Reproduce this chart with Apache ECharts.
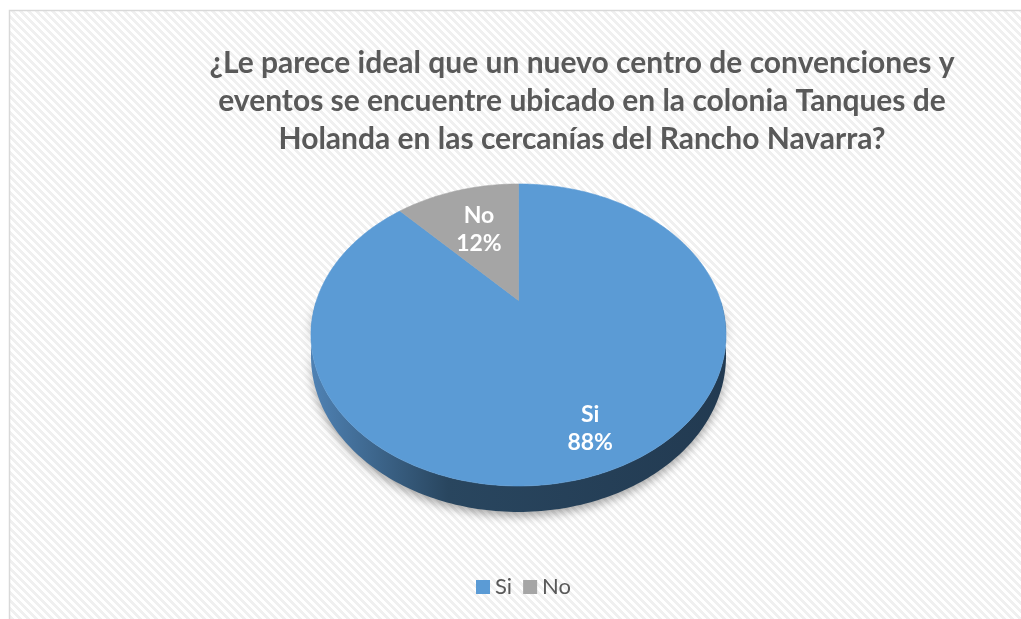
<!DOCTYPE html>
<html>
<head>
<meta charset="utf-8">
<script src="https://cdn.jsdelivr.net/npm/echarts@6/dist/echarts.min.js"></script>
<style>html,body{margin:0;padding:0;background:#fff;}#main{width:1021px;height:619px;}</style>
</head>
<body>
<div id="main"></div>
<script>
// ---- data ----
const titleLines = [
  '¿Le parece ideal que un nuevo centro de convenciones y',
  'eventos se encuentre ubicado en la colonia Tanques de',
  'Holanda en las cercanías del Rancho Navarra?'
];
const categories = ['Si', 'No'];
const values = [88, 12];

// ---- style ----
const sliceColors = { Si: '#5b9bd5', No: '#a5a5a5' };
const labelRadius = { Si: 0.8, No: 0.6 };
const FONT = 'Lato, "Open Sans", sans-serif';
const CX = 518.5, CY = 300.4, A = 202, B = 143.1, K = 0.229, DROP = 20;

function project(theta, f, drop) {
  const X = f * Math.sin(theta), Z = f * Math.cos(theta);
  const w = 1 + K * Z;
  return [CX + A * X / w, CY + (-B * Z + (drop || 0)) / w];
}

const total = values.reduce((s, v) => s + v, 0);

// background stripe pattern
const pat = document.createElement('canvas');
pat.width = 8; pat.height = 8;
const pctx = pat.getContext('2d');
pctx.fillStyle = '#ffffff'; pctx.fillRect(0, 0, 8, 8);
pctx.fillStyle = '#f0f0f0';
for (let y = 0; y < 8; y++) for (let x = 0; x < 8; x++) {
  if (((x - y) % 8 + 8) % 8 < 4) pctx.fillRect(x, y, 1, 1);
}

function makeRender(idx) {
  return function (params, api) {
    const v = api.value(0);
    const before = values.slice(0, idx).reduce((s, x) => s + x, 0);
    const a0 = before / total * Math.PI * 2;
    const a1 = (before + v) / total * Math.PI * 2;
    const name = categories[idx];
    const children = [];
    const step = Math.PI / 180;
    // side
    const s0 = Math.max(a0, Math.PI / 2), s1 = Math.min(a1, Math.PI * 1.5);
    if (s1 > s0) {
      const top = [], bot = [];
      for (let t = s0; t < s1; t += step) { top.push(project(t, 1, 0)); bot.push(project(t, 1, DROP)); }
      top.push(project(s1, 1, 0)); bot.push(project(s1, 1, DROP));
      children.push({
        type: 'polygon',
        shape: { points: top.concat(bot.reverse()) },
        style: {
          fill: {
            type: 'linear', x: 311, y: 0, x2: 726, y2: 0, global: true,
            colorStops: [
              { offset: 0, color: '#4f82b4' },
              { offset: 0.33, color: '#29465f' },
              { offset: 1, color: '#223a51' }
            ]
          },
          shadowBlur: 10, shadowColor: 'rgba(0,0,0,0.35)', shadowOffsetY: 4
        }
      });
    }
    // top face
    const pts = [project(0, 0, 0)];
    for (let t = a0; t < a1; t += step) pts.push(project(t, 1, 0));
    pts.push(project(a1, 1, 0));
    children.push({
      type: 'polygon',
      shape: { points: pts },
      style: { fill: sliceColors[name], stroke: sliceColors[name], lineWidth: 0.6 }
    });
    // label
    const mid = (a0 + a1) / 2;
    const lp = project(mid, labelRadius[name], 0);
    children.push({
      type: 'text',
      style: {
        text: name + '\n' + Math.round(v / total * 100) + '%',
        x: lp[0], y: lp[1], align: 'center', verticalAlign: 'middle',
        fill: '#ffffff', fontSize: 23, fontWeight: 'bold', fontFamily: FONT, lineHeight: 28
      }
    });
    return { type: 'group', children: children };
  };
}

const chart = echarts.init(document.getElementById('main'), null, { renderer: 'canvas' });
chart.setOption({
  animation: false,
  title: {
    text: titleLines.join('\n'),
    left: 577, top: 39, textAlign: 'center',
    textStyle: { color: '#595959', fontSize: 30, fontWeight: 'bold', fontFamily: FONT, lineHeight: 38 }
  },
  legend: {
    data: categories,
    left: 471, top: 571,
    itemWidth: 14, itemHeight: 14, itemGap: 11, icon: 'rect',
    textStyle: { color: '#595959', fontSize: 22, fontFamily: FONT }
  },
  graphic: [{
    type: 'rect', z: -10, silent: true,
    shape: { x: 9.5, y: 10.5, width: 1100, height: 700 },
    style: { fill: { image: pat, repeat: 'repeat' }, stroke: '#d9d9d9', lineWidth: 1.5 }
  }],
  series: categories.map((name, i) => ({
    type: 'custom',
    name: name,
    coordinateSystem: 'none',
    itemStyle: { color: sliceColors[name] },
    renderItem: makeRender(i),
    data: [[values[i]]]
  }))
});
</script>
</body>
</html>
